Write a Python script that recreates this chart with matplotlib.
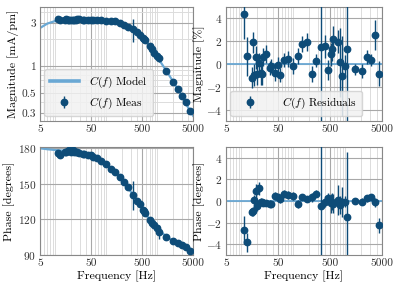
import matplotlib
matplotlib.use('Agg')
import matplotlib.pyplot as plt
from matplotlib.ticker import FixedLocator, FixedFormatter, NullFormatter, LogLocator

plt.rcParams['font.family'] = ['cmr10']
plt.rcParams['mathtext.fontset'] = 'cm'
plt.rcParams['axes.formatter.use_mathtext'] = True
plt.rcParams['font.size'] = 8
plt.rcParams['axes.unicode_minus'] = True

# ---- data ----
freq = [11.3, 12.5, 15.6, 16.3, 17.5, 18.6, 19.9, 21.8, 23.5, 25.0, 26.1, 29.0,
        34.6, 36.7, 44.4, 49.3, 54.6, 66.2, 79.0, 99.8, 122.7, 146.8, 183, 222,
        269, 335, 406, 451, 523, 546, 579, 713, 776, 872, 970, 1062, 1500, 2050,
        2550, 3050, 3650, 4400]
mag_meas = [3.32, 3.22, 3.20, 3.31, 3.22, 3.27, 3.23, 3.26, 3.24, 3.24, 3.29, 3.30,
            3.25, 3.26, 3.23, 3.25, 3.21, 3.24, 3.22, 3.16, 3.14, 3.12, 3.03, 2.83,
            2.73, 2.56, 2.36, 2.19, 2.04, 2.00, 1.93, 1.68, 1.54, 1.40, 1.28, 1.21,
            0.876, 0.664, 0.548, 0.467, 0.40, 0.315]
mag_err = [0.073, 0.055, 0.029, 0.030, 0.032, 0.033, 0.032, 0.029, 0.032, 0.032, 0.026, 0.026,
           0.020, 0.020, 0.023, 0.023, 0.019, 0.019, 0.023, 0.022, 0.022, 0.022, 0.024, 0.020,
           0.016, 0.72, 0.024, 0.020, 0.020, 0.022, 0.023, 0.017, 0.046, 0.049, 0.013, 0.10,
           0.0044, 0.004, 0.0033, 0.0023, 0.0052, 0.0037]
phase_meas = [175.6, 174.4, 176.9, 176.8, 177.8, 178.5, 177.1, 178.45, 176.9, 176.7, 176.55, 176.2,
              175.3, 174.9, 174.6, 174.0, 172.9, 171.7, 169.5, 166.5, 162.4, 160.2, 155.6, 151.2,
              146.9, 140.2, 135.5, 132.8, 128.0, 127.0, 125.1, 119.7, 117.3, 114.9, 112.5, 109.5,
              105.5, 101.7, 100.1, 98.7, 96.7, 93.0]
phase_err = [1.3, 0.9, 0.4, 0.4, 0.5, 0.7, 0.5, 0.6, 0.3, 0.3, 0.3, 0.3,
             0.3, 0.3, 0.4, 0.3, 0.3, 0.3, 0.4, 0.4, 0.4, 0.3, 0.3, 0.4,
             0.3, 12.5, 0.5, 0.5, 0.9, 0.8, 0.9, 1.4, 0.8, 1.4, 0.5, 6.0,
             0.3, 0.3, 0.3, 0.3, 0.4, 0.7]
mag_res = [4.43, 0.66, -1.2, 1.89, -0.96, 0.6, -0.84, 0.09, -0.8, -0.84, 0.6, 0.9,
           -0.36, -0.15, -0.75, -0.06, -0.96, 0.36, 0.42, -0.18, 0.72, 1.74, 1.95, -0.9,
           0.3, 1.5, 1.56, -0.54, 0.84, 1.35, 2.16, 1.95, 0.15, -1.05, -0.21, 1.32,
           -0.48, -0.6, 0.6, 0.36, 2.57, -0.84]
mag_res_err = [2.2, 1.7, 0.9, 0.9, 1.0, 1.0, 1.0, 0.9, 1.0, 1.0, 0.8, 0.8,
               0.6, 0.6, 0.7, 0.7, 0.6, 0.6, 0.7, 0.7, 0.7, 0.7, 0.8, 0.7,
               0.6, 28.0, 1.0, 0.9, 1.0, 1.1, 1.2, 1.0, 3.0, 3.5, 1.0, 8.0,
               0.5, 0.6, 0.6, 0.5, 1.3, 1.1]
phase_res = [-2.69, -3.83, -1.02, -0.96, 0.06, 0.9, -0.45, 1.2, -0.06, -0.12, -0.15, -0.2,
             -0.24, -0.27, 0.48, 0.39, 0.15, 0.69, 0.54, 0.48, -0.27, 0.39, 0.18, 0.33,
             0.69, -0.45, -0.06, 0.24, -0.21, -0.06, -0.24, 0.12, -0.36, -0.06, -0.06, -1.5,
             0.0, -0.06, 0.24, 0.36, -0.12, -2.25]

model_freq = [5, 7, 10, 15, 20, 30, 50, 70, 100, 150, 200, 300, 400, 500, 700,
              1000, 1500, 2000, 3000, 4000, 5000]
model_mag = [2.63, 2.95, 3.15, 3.24, 3.26, 3.27, 3.25, 3.22, 3.17, 3.06, 2.93, 2.64,
             2.34, 2.08, 1.67, 1.25, 0.88, 0.68, 0.47, 0.345, 0.28]
model_phase = [180.0, 179.2, 178.5, 178.0, 177.5, 176.3, 173.5, 170.5, 166.0, 159.5,
               153.5, 143.5, 136.0, 129.5, 120.0, 112.0, 105.5, 102.0, 98.5, 96.0, 94.0]

xticks = [5, 50, 500, 5000]
xticklabels = ['5', '50', '500', '5000']
mag_ticks = [0.3, 0.5, 1, 3]
mag_ticklabels = ['0.3', '0.5', '1', '3']
phase_ticks = [90, 120, 150, 180]
res_ticks = [-4, -2, 0, 2, 4]

dark = '#0e4c78'
light = '#6aa8d4'

fig = plt.figure(figsize=(3.99, 2.93), dpi=100)
ax1 = fig.add_axes([0.100, 0.587, 0.384, 0.389])
ax2 = fig.add_axes([0.566, 0.587, 0.391, 0.389])
ax3 = fig.add_axes([0.100, 0.130, 0.384, 0.368])
ax4 = fig.add_axes([0.566, 0.130, 0.391, 0.368])

LBL = 8.6
TCK = 8.2

def style(ax):
    ax.set_xscale('log')
    ax.set_xlim(5, 5000)
    ax.xaxis.set_major_locator(FixedLocator(xticks))
    ax.xaxis.set_major_formatter(FixedFormatter(xticklabels))
    ax.xaxis.set_minor_locator(LogLocator(base=10, subs=range(1, 10), numticks=20))
    ax.xaxis.set_minor_formatter(NullFormatter())
    ax.grid(True, which='major', color='#a8a8a8', lw=0.8)
    ax.grid(True, which='minor', color='#dcdcdc', lw=0.7)
    ax.set_axisbelow(True)
    for s in ax.spines.values():
        s.set_color('#888888')
        s.set_linewidth(0.8)
    ax.tick_params(which='both', length=0, pad=2.5, labelsize=TCK, colors='#333333')

ebkw = dict(fmt='o', color=dark, ecolor=dark, ms=4.6, elinewidth=1.0, capsize=0, zorder=3)

# Top-left: magnitude
style(ax1)
ax1.set_yscale('log')
ax1.set_ylim(0.245, 4.5)
ax1.yaxis.set_major_locator(FixedLocator(mag_ticks))
ax1.yaxis.set_major_formatter(FixedFormatter(mag_ticklabels))
ax1.yaxis.set_minor_locator(LogLocator(base=10, subs=range(1, 10), numticks=20))
ax1.yaxis.set_minor_formatter(NullFormatter())
ax1.plot(model_freq, model_mag, color=light, lw=1.6, label='$C(f)$ Model', zorder=2)
ax1.errorbar(freq, mag_meas, yerr=mag_err, label='$C(f)$ Meas', **ebkw)
ax1.set_ylabel('Magnitude [mA/pm]', fontsize=LBL, labelpad=2)
h, l = ax1.get_legend_handles_labels()
leg = ax1.legend(h, l, loc='lower left', fontsize=8.2, frameon=True, facecolor='#f2f2f2',
                 edgecolor='#d0d0d0', framealpha=0.85, handlelength=2.6, borderpad=0.45,
                 labelspacing=0.55, handletextpad=0.9, borderaxespad=0.4)
leg.get_lines()[0].set_linewidth(2.6)

# Top-right: magnitude residuals
style(ax2)
ax2.set_ylim(-5, 5)
ax2.yaxis.set_major_locator(FixedLocator(res_ticks))
ax2.axhline(0, color=light, lw=1.3, zorder=2)
ax2.errorbar(freq, mag_res, yerr=mag_res_err, label='$C(f)$ Residuals', **ebkw)
ax2.set_ylabel('Magnitude [%]', fontsize=LBL, labelpad=1)
ax2.legend(loc='lower left', fontsize=8.2, frameon=True, facecolor='#f2f2f2',
           edgecolor='#d0d0d0', framealpha=0.85, handlelength=2.6, borderpad=0.45,
           handletextpad=1.5, borderaxespad=0.4)

# Bottom-left: phase
style(ax3)
ax3.set_ylim(90, 181)
ax3.yaxis.set_major_locator(FixedLocator(phase_ticks))
ax3.plot(model_freq, model_phase, color=light, lw=1.6, zorder=2)
ax3.errorbar(freq, phase_meas, yerr=phase_err, **ebkw)
ax3.set_ylabel('Phase [degrees]', fontsize=LBL, labelpad=2)
ax3.set_xlabel('Frequency [Hz]', fontsize=LBL, labelpad=2)

# Bottom-right: phase residuals
style(ax4)
ax4.set_ylim(-5, 5)
ax4.yaxis.set_major_locator(FixedLocator(res_ticks))
ax4.axhline(0, color=light, lw=1.3, zorder=2)
ax4.errorbar(freq, phase_res, yerr=phase_err, **ebkw)
ax4.set_ylabel('Phase [degrees]', fontsize=LBL, labelpad=1)
ax4.set_xlabel('Frequency [Hz]', fontsize=LBL, labelpad=2)

fig.savefig('out.png', dpi=100)
